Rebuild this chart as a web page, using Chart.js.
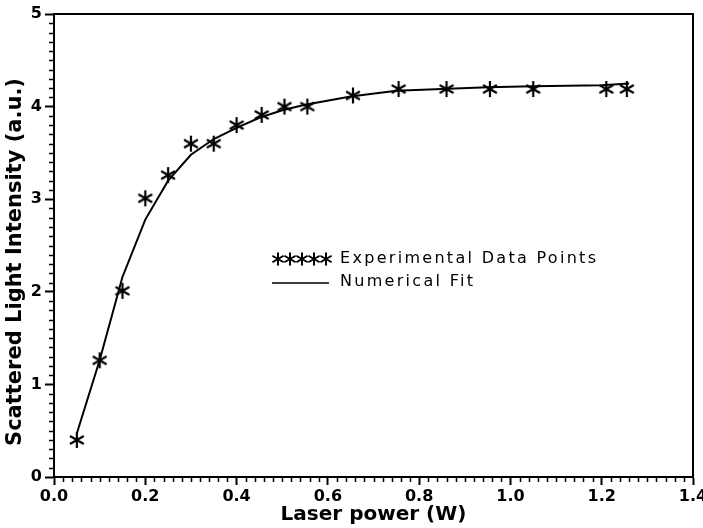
<!DOCTYPE html>
<html lang="en">
<head>
    <meta charset="UTF-8">
    <title>Scattered light vs laser power</title>
    <script src="https://cdn.jsdelivr.net/npm/chart.js"></script>
    <style>
        html, body { margin: 0; padding: 0; background: #fff; }
        #wrap { width: 703px; height: 528px; }
    </style>
</head>
<body>
    <div id="wrap"><canvas id="powerChart" width="703" height="528"></canvas></div>

    <script>
        // measured points
        const powerW = [0.05, 0.10, 0.15, 0.20, 0.25, 0.30, 0.35, 0.40, 0.455, 0.505, 0.555, 0.655, 0.755, 0.86, 0.955, 1.05, 1.21, 1.255];
        const measured = [0.40, 1.26, 2.01, 3.01, 3.26, 3.60, 3.60, 3.80, 3.91, 4.00, 4.00, 4.12, 4.19, 4.19, 4.19, 4.19, 4.19, 4.19];

        // numerical fit curve
        const fitPower = [0.05, 0.10, 0.15, 0.20, 0.25, 0.30, 0.35, 0.40, 0.45, 0.50, 0.55, 0.65, 0.75, 0.85, 0.95, 1.05, 1.20, 1.26];
        const fitted = [0.47, 1.26, 2.16, 2.78, 3.20, 3.48, 3.65, 3.77, 3.88, 3.96, 4.02, 4.11, 4.17, 4.19, 4.21, 4.22, 4.23, 4.25];

        const xTicks = [0.0, 0.2, 0.4, 0.6, 0.8, 1.0, 1.2, 1.4];
        const yTicks = [0, 1, 2, 3, 4, 5];

        const FONT = "'DejaVu Sans', sans-serif";
        const yTitle = 'Scattered Light Intensity (a.u.)';

        function drawStar(ctx, cx, cy, r) {
            ctx.beginPath();
            for (let k = 0; k < 3; k++) {
                const ang = Math.PI / 2 + k * Math.PI / 3;
                ctx.moveTo(cx + r * Math.cos(ang), cy + r * Math.sin(ang));
                ctx.lineTo(cx - r * Math.cos(ang), cy - r * Math.sin(ang));
            }
            ctx.stroke();
        }

        // box outline, minor ticks, y title and the in-plot key
        const framePlugin = {
            id: 'frame',
            afterDraw(chart) {
                const ctx = chart.ctx;
                const a = chart.chartArea;
                const xs = chart.scales.x;
                const ys = chart.scales.y;
                ctx.save();
                ctx.strokeStyle = '#000';
                ctx.lineWidth = 2;
                ctx.strokeRect(a.left, a.top, a.right - a.left, a.bottom - a.top);

                ctx.lineWidth = 1.5;
                ctx.beginPath();
                for (let i = 1; i < 70; i++) {
                    if (i % 10 === 0) continue;
                    const px = Math.round(xs.getPixelForValue(i * 0.02)) + 0.5;
                    ctx.moveTo(px, a.bottom);
                    ctx.lineTo(px, a.bottom + 5);
                }
                for (let i = 1; i < 50; i++) {
                    if (i % 10 === 0) continue;
                    const py = Math.round(ys.getPixelForValue(i * 0.1)) + 0.5;
                    ctx.moveTo(a.left, py);
                    ctx.lineTo(a.left - 5, py);
                }
                ctx.stroke();

                // vertical axis title, sitting a little below the plot centre
                ctx.save();
                ctx.translate(16, 262);
                ctx.rotate(-Math.PI / 2);
                ctx.fillStyle = '#000';
                ctx.font = 'bold 21px ' + FONT;
                ctx.textAlign = 'center';
                ctx.textBaseline = 'middle';
                ctx.fillText(yTitle, 0, 0);
                ctx.restore();

                // key
                const kx = 271, ky1 = 259, ky2 = 282;
                ctx.fillStyle = '#000';
                ctx.font = '16px ' + FONT;
                ctx.textBaseline = 'middle';
                ctx.textAlign = 'left';
                ctx.letterSpacing = '2.3px';
                ctx.fillText('Experimental Data Points', kx + 69, ky1);
                ctx.fillText('Numerical Fit', kx + 69, ky2);
                ctx.lineWidth = 2;
                for (let k = 0; k < 5; k++) {
                    drawStar(ctx, kx + 7 + k * 12, ky1, 6.5);
                }
                ctx.lineWidth = 1.6;
                ctx.beginPath();
                ctx.moveTo(kx + 1, ky2 + 1);
                ctx.lineTo(kx + 58, ky2 + 1);
                ctx.stroke();
                ctx.restore();
            }
        };

        // six-armed asterisk used for the data markers
        const starCanvas = document.createElement('canvas');
        starCanvas.width = 20;
        starCanvas.height = 20;
        (function () {
            const c = starCanvas.getContext('2d');
            c.strokeStyle = '#000';
            c.lineWidth = 2.2;
            drawStar(c, 10, 10, 8);
        })();

        const ctx = document.getElementById('powerChart').getContext('2d');
        new Chart(ctx, {
            type: 'scatter',
            data: {
                datasets: [
                    {
                        label: 'Experimental Data Points',
                        data: powerW.map((x, i) => ({ x: x, y: measured[i] })),
                        pointStyle: starCanvas,
                        pointRadius: 9,
                        showLine: false,
                        order: 1
                    },
                    {
                        label: 'Numerical Fit',
                        data: fitPower.map((x, i) => ({ x: x, y: fitted[i] })),
                        showLine: true,
                        borderColor: '#000',
                        borderWidth: 2,
                        pointRadius: 0,
                        tension: 0,
                        order: 2
                    }
                ]
            },
            options: {
                responsive: false,
                animation: false,
                devicePixelRatio: 1,
                layout: { padding: { top: 14, right: 10, left: 0, bottom: 0 } },
                plugins: {
                    legend: { display: false },
                    tooltip: { enabled: false }
                },
                scales: {
                    x: {
                        type: 'linear',
                        min: 0,
                        max: 1.4,
                        afterFit: s => { s.height = 51; s.paddingLeft = 0; s.paddingRight = 0; },
                        afterBuildTicks: s => { s.ticks = xTicks.map(v => ({ value: v })); },
                        ticks: {
                            color: '#000',
                            padding: 2,
                            font: { family: FONT, size: 16, weight: 'bold' },
                            callback: v => v.toFixed(1),
                            maxRotation: 0
                        },
                        grid: { drawOnChartArea: false, tickLength: 8, tickWidth: 2, tickColor: '#000' },
                        border: { color: '#000', width: 2 },
                        title: {
                            display: true,
                            text: 'Laser power (W)',
                            color: '#000',
                            font: { family: FONT, size: 20, weight: 'bold' },
                            padding: { top: 0, bottom: 1 }
                        }
                    },
                    y: {
                        type: 'linear',
                        min: 0,
                        max: 5,
                        afterFit: s => { s.width = 54; s.paddingTop = 0; s.paddingBottom = 0; },
                        afterBuildTicks: s => { s.ticks = yTicks.map(v => ({ value: v })); },
                        ticks: {
                            color: '#000',
                            padding: 3,
                            font: { family: FONT, size: 16, weight: 'bold' }
                        },
                        grid: { drawOnChartArea: false, tickLength: 9, tickWidth: 2, tickColor: '#000' },
                        border: { color: '#000', width: 2 }
                    }
                }
            },
            plugins: [framePlugin]
        });
    </script>
</body>
</html>
